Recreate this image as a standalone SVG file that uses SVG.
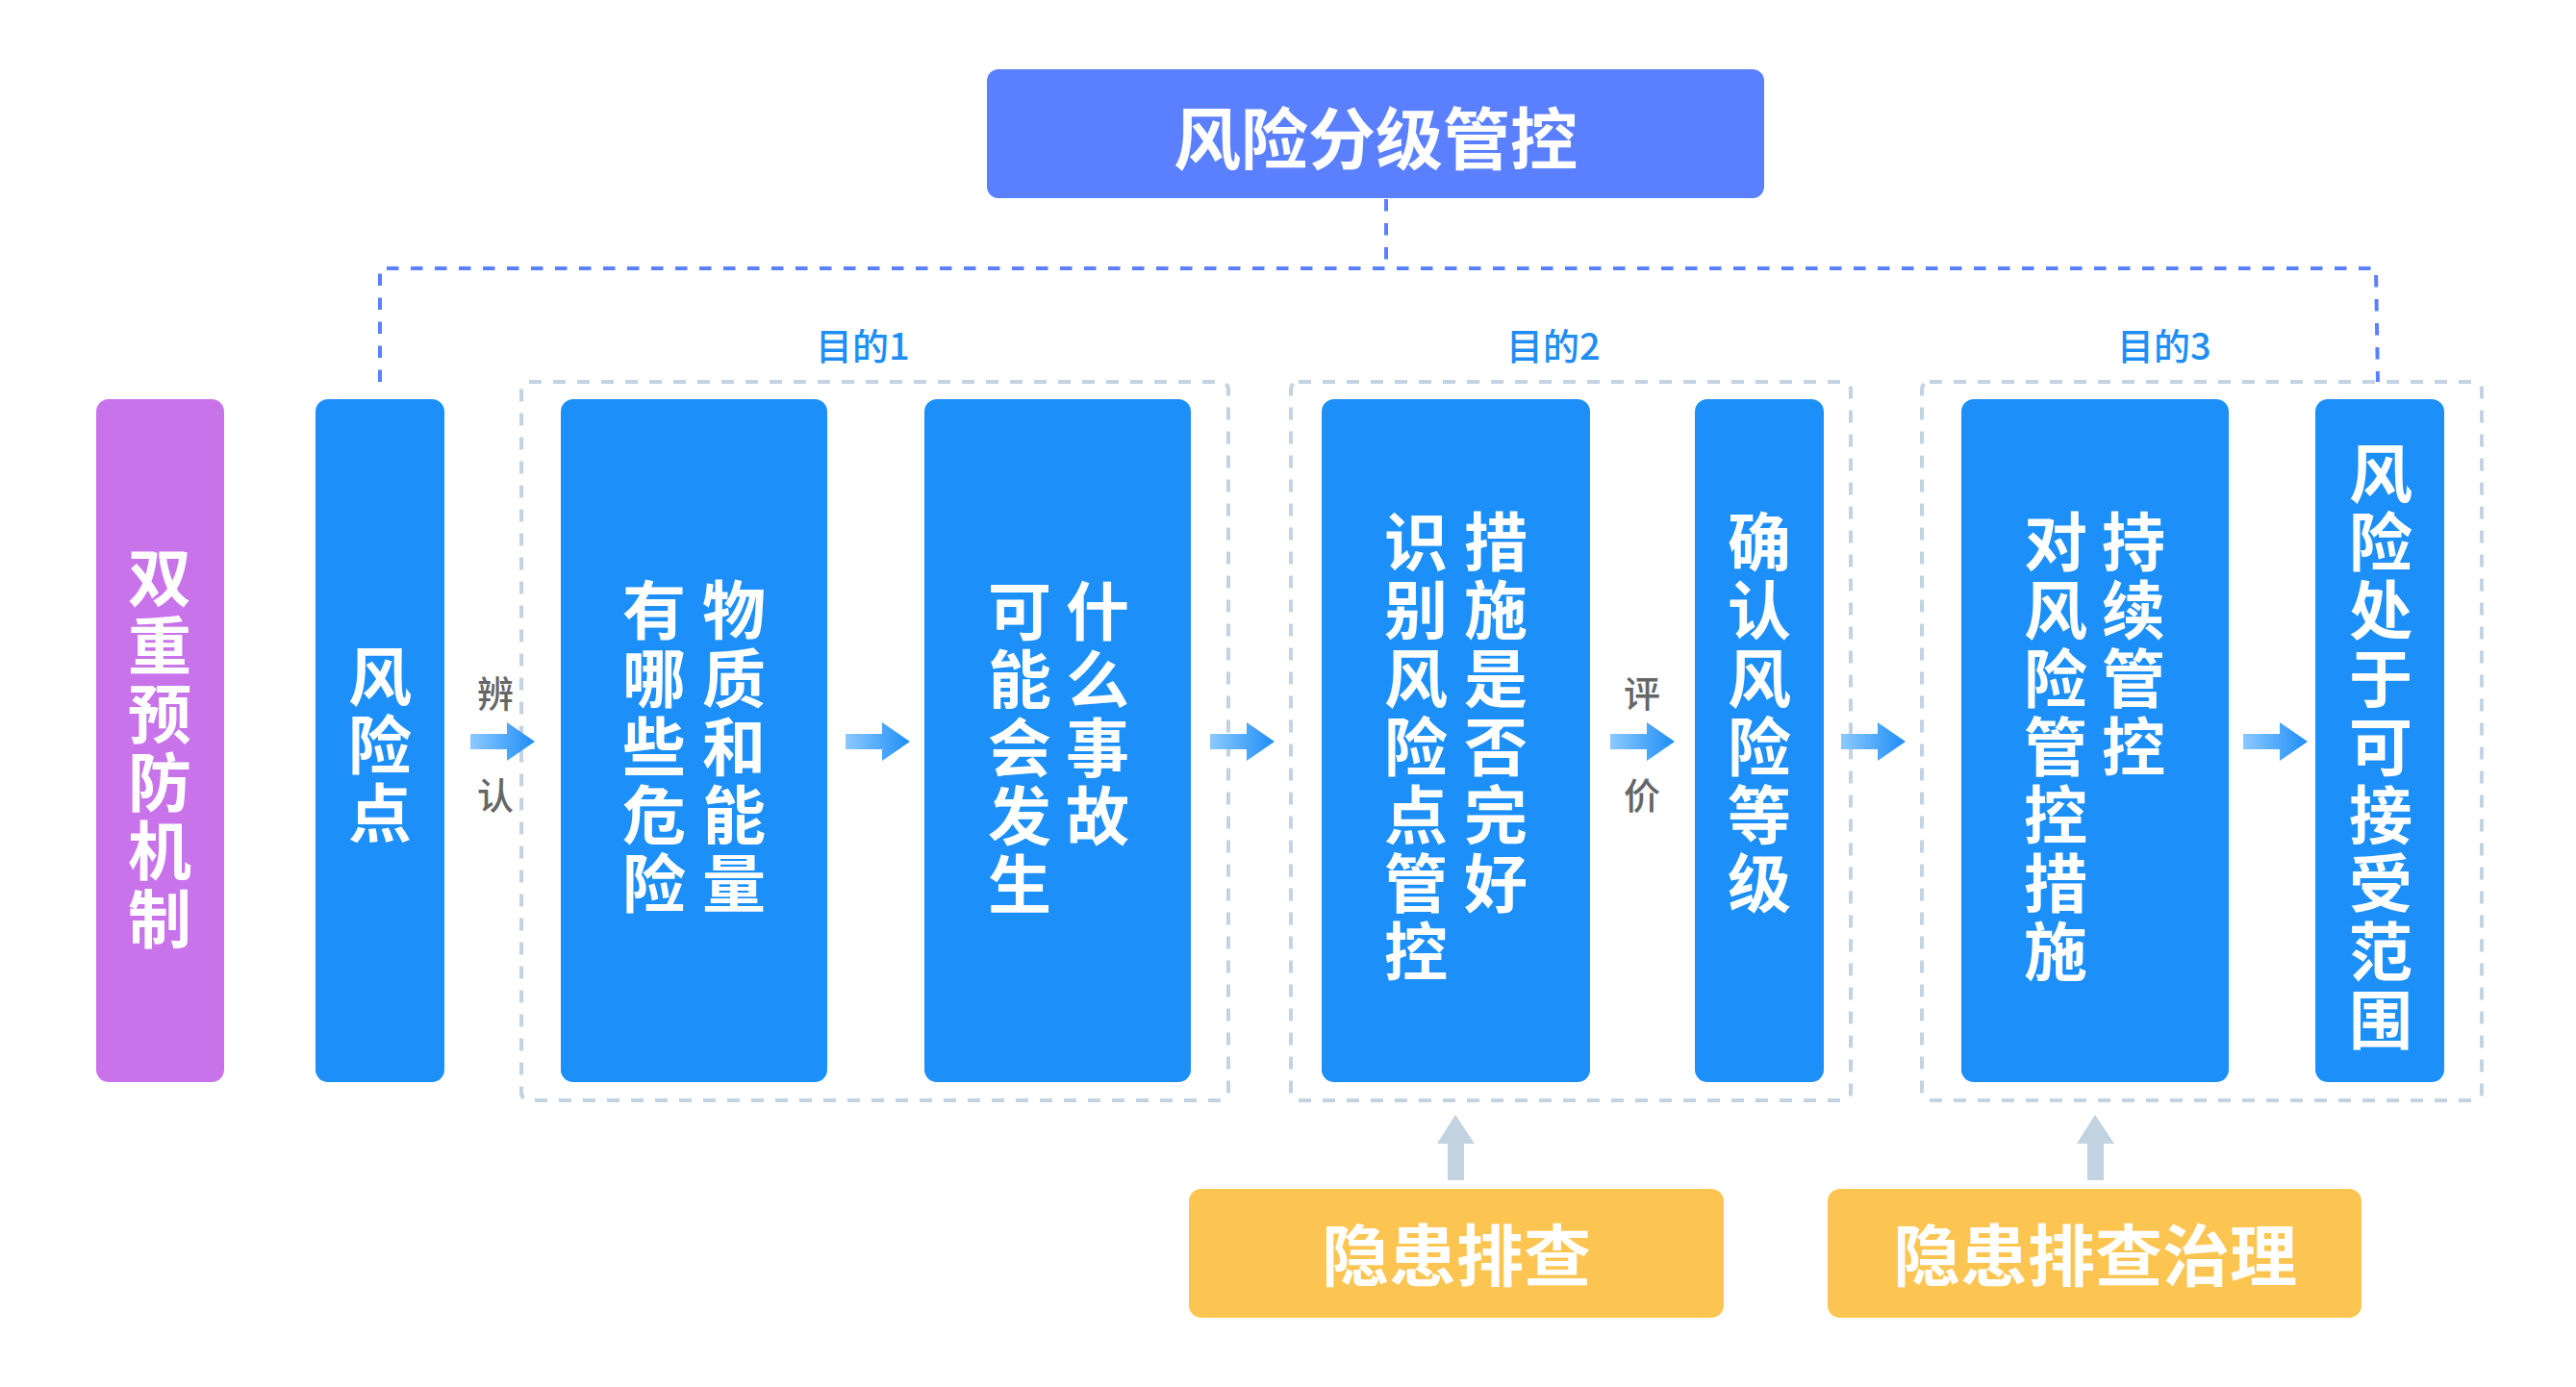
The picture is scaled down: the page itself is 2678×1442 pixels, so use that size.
<svg xmlns="http://www.w3.org/2000/svg" width="2678" height="1442" viewBox="0 0 2678 1442">
<defs>
<linearGradient id="ag" x1="0" y1="0" x2="1" y2="0">
<stop offset="0" stop-color="#8CC9FF"/>
<stop offset="1" stop-color="#1E8EF6"/>
</linearGradient>
<style>
.box{fill:#1C8FF8}
.purple{fill:#C873EA}
.title{fill:#5B80FF}
.yellow{fill:#FCC552}
.grp{fill:none;stroke:#C4D3E1;stroke-width:4;stroke-dasharray:13 12}
.dl{fill:none;stroke:#5B80FF;stroke-width:4;stroke-dasharray:12.5 12.5}
.t{font-family:"Noto Sans CJK SC","Noto Sans",sans-serif;font-weight:700;fill:#fff;text-anchor:middle;dominant-baseline:central}
.bt{font-size:66px}
.big{font-size:70px}
.lbl{font-family:"Noto Sans CJK SC","Noto Sans",sans-serif;font-size:38px;fill:#1E8EF6;font-weight:500}
.gl{font-family:"Noto Sans CJK SC",sans-serif;font-size:38px;fill:#666;text-anchor:middle;dominant-baseline:central;font-weight:500}
.ar{fill:url(#ag)}
.up{fill:#C2D2E0}
</style>
</defs>

<g id="groups">
<rect class="grp" x="542" y="397" width="735" height="747" rx="8"/>
<rect class="grp" x="1342" y="397" width="582" height="747" rx="8"/>
<rect class="grp" x="1998" y="397" width="582" height="747" rx="8"/>
<text class="lbl" x="848" y="374">目的1</text>
<text class="lbl" x="1566" y="374">目的2</text>
<text class="lbl" x="2201" y="374">目的3</text>
</g>

<g id="connectors">
<polyline class="dl" points="1441,207 1441,279"/>
<polyline class="dl" points="395,397 395,279 2470,279 2472,397"/>
<path class="ar" d="M489,763 H527 V751 L556,771 L527,791 V779 H489 Z"/>
<path class="ar" d="M879,763 H917 V751 L946,771 L917,791 V779 H879 Z"/>
<path class="ar" d="M1258,763 H1296 V751 L1325,771 L1296,791 V779 H1258 Z"/>
<path class="ar" d="M1674,763 H1712 V751 L1741,771 L1712,791 V779 H1674 Z"/>
<path class="ar" d="M1914,763 H1952 V751 L1981,771 L1952,791 V779 H1914 Z"/>
<path class="ar" d="M2332,763 H2370 V751 L2399,771 L2370,791 V779 H2332 Z"/>
<text class="gl" x="515" y="718">辨</text>
<text class="gl" x="515" y="824">认</text>
<text class="gl" x="1707" y="718">评</text>
<text class="gl" x="1707" y="824">价</text>
<path class="up" d="M1513,1159 L1533,1189 H1522 V1227 H1505 V1189 H1494 Z"/>
<path class="up" d="M2178,1159 L2198,1189 H2187 V1227 H2170 V1189 H2159 Z"/>
</g>

<g id="node-title">
<rect class="title" x="1026" y="72" width="808" height="134" rx="12"/>
<text class="t big" x="1430" y="140">风险分级管控</text>
</g>

<g id="node-dual">
<rect class="purple" x="100" y="415" width="133" height="710" rx="13"/>
<text class="t bt"><tspan x="166" y="596">双</tspan><tspan x="166" y="667">重</tspan><tspan x="166" y="738">预</tspan><tspan x="166" y="809">防</tspan><tspan x="166" y="880">机</tspan><tspan x="166" y="951">制</tspan></text>
</g>

<g id="node-riskpoint">
<rect class="box" x="328" y="415" width="134" height="710" rx="13"/>
<text class="t bt"><tspan x="395" y="699">风</tspan><tspan x="395" y="770">险</tspan><tspan x="395" y="841">点</tspan></text>
</g>

<g id="node-material">
<rect class="box" x="583" y="415" width="277" height="710" rx="13"/>
<text class="t bt"><tspan x="763" y="630">物</tspan><tspan x="763" y="701">质</tspan><tspan x="763" y="772">和</tspan><tspan x="763" y="843">能</tspan><tspan x="763" y="914">量</tspan></text>
<text class="t bt"><tspan x="680" y="630">有</tspan><tspan x="680" y="701">哪</tspan><tspan x="680" y="772">些</tspan><tspan x="680" y="843">危</tspan><tspan x="680" y="914">险</tspan></text>
</g>

<g id="node-accident">
<rect class="box" x="961" y="415" width="277" height="710" rx="13"/>
<text class="t bt"><tspan x="1141" y="631">什</tspan><tspan x="1141" y="702">么</tspan><tspan x="1141" y="773">事</tspan><tspan x="1141" y="844">故</tspan></text>
<text class="t bt"><tspan x="1060" y="631">可</tspan><tspan x="1060" y="702">能</tspan><tspan x="1060" y="773">会</tspan><tspan x="1060" y="844">发</tspan><tspan x="1060" y="915">生</tspan></text>
</g>

<g id="node-measures">
<rect class="box" x="1374" y="415" width="279" height="710" rx="13"/>
<text class="t bt"><tspan x="1555" y="559">措</tspan><tspan x="1555" y="630">施</tspan><tspan x="1555" y="701">是</tspan><tspan x="1555" y="772">否</tspan><tspan x="1555" y="843">完</tspan><tspan x="1555" y="914">好</tspan></text>
<text class="t bt"><tspan x="1472" y="559">识</tspan><tspan x="1472" y="630">别</tspan><tspan x="1472" y="701">风</tspan><tspan x="1472" y="772">险</tspan><tspan x="1472" y="843">点</tspan><tspan x="1472" y="914">管</tspan><tspan x="1472" y="985">控</tspan></text>
</g>

<g id="node-level">
<rect class="box" x="1762" y="415" width="134" height="710" rx="13"/>
<text class="t bt"><tspan x="1829" y="559">确</tspan><tspan x="1829" y="630">认</tspan><tspan x="1829" y="701">风</tspan><tspan x="1829" y="772">险</tspan><tspan x="1829" y="843">等</tspan><tspan x="1829" y="914">级</tspan></text>
</g>

<g id="node-control">
<rect class="box" x="2039" y="415" width="278" height="710" rx="13"/>
<text class="t bt"><tspan x="2218" y="559">持</tspan><tspan x="2218" y="630">续</tspan><tspan x="2218" y="701">管</tspan><tspan x="2218" y="772">控</tspan></text>
<text class="t bt"><tspan x="2137" y="559">对</tspan><tspan x="2137" y="630">风</tspan><tspan x="2137" y="701">险</tspan><tspan x="2137" y="772">管</tspan><tspan x="2137" y="843">控</tspan><tspan x="2137" y="914">措</tspan><tspan x="2137" y="985">施</tspan></text>
</g>

<g id="node-acceptable">
<rect class="box" x="2407" y="415" width="134" height="710" rx="13"/>
<text class="t bt"><tspan x="2475" y="488">风</tspan><tspan x="2475" y="559">险</tspan><tspan x="2475" y="630">处</tspan><tspan x="2475" y="701">于</tspan><tspan x="2475" y="772">可</tspan><tspan x="2475" y="843">接</tspan><tspan x="2475" y="914">受</tspan><tspan x="2475" y="985">范</tspan><tspan x="2475" y="1056">围</tspan></text>
</g>

<g id="node-hazard-check">
<rect class="yellow" x="1236" y="1236" width="556" height="134" rx="13"/>
<text class="t big" x="1514" y="1301">隐患排查</text>
</g>

<g id="node-hazard-govern">
<rect class="yellow" x="1900" y="1236" width="555" height="134" rx="13"/>
<text class="t big" x="2178" y="1301">隐患排查治理</text>
</g>
</svg>
